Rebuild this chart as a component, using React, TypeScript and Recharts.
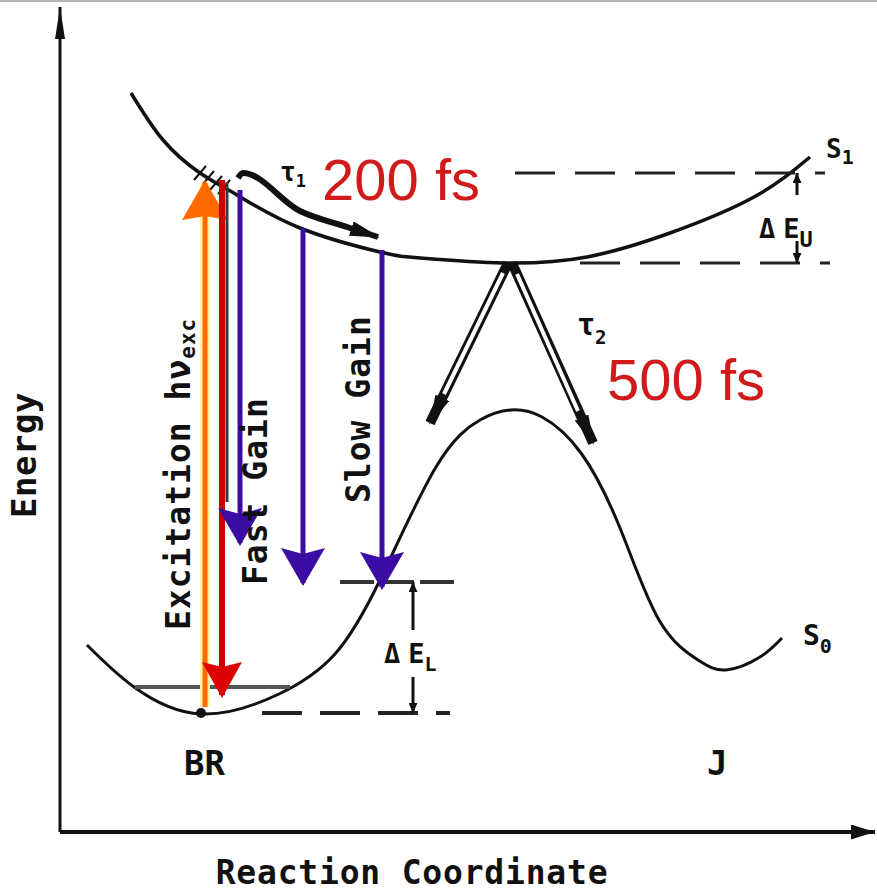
import { ComposedChart, Line, ReferenceDot, XAxis, YAxis } from "recharts";

type Pt = { x: number; e: number | null };

// potential energy curves (reaction coordinate x, energy e; arbitrary units)
const s1Curve: Pt[] = [
  { x: 71, e: 739 }, { x: 103, e: 692 }, { x: 140, e: 659 }, { x: 177, e: 637 },
  { x: 240, e: 604 }, { x: 320, e: 580 }, { x: 360, e: 574 }, { x: 443, e: 569 },
  { x: 527, e: 575 }, { x: 610, e: 599 }, { x: 694, e: 635 }, { x: 750, e: 675 },
];
const s0Curve: Pt[] = [
  { x: 27, e: 187 }, { x: 74, e: 145 }, { x: 141, e: 118 }, { x: 219, e: 138 },
  { x: 275, e: 178 }, { x: 320, e: 252 }, { x: 376, e: 365 }, { x: 420, e: 412 },
  { x: 451, e: 422 }, { x: 482, e: 415 }, { x: 521, e: 379 }, { x: 560, e: 304 },
  { x: 599, e: 212 }, { x: 638, e: 172 }, { x: 666, e: 162 }, { x: 700, e: 175 },
  { x: 722, e: 194 },
];

// energy levels
const s1TopLevel: Pt[] = [{ x: 455, e: 659 }, { x: 765, e: 659 }];
const s1MinLevel: Pt[] = [{ x: 520, e: 569 }, { x: 770, e: 569 }];
const s0MinLevel: Pt[] = [{ x: 202, e: 119 }, { x: 390, e: 119 }];
const slowLevel: Pt[] = [{ x: 280, e: 250 }, { x: 395, e: 250 }];
const vibLevel: Pt[] = [{ x: 75, e: 145 }, { x: 230, e: 145 }];

// vertical transitions
const excitation: Pt[] = [{ x: 145, e: 125 }, { x: 145, e: 649 }];
const emission: Pt[] = [{ x: 162, e: 652 }, { x: 162, e: 137 }];
const emissionShadow: Pt[] = [{ x: 167, e: 650 }, { x: 167, e: 330 }];
const fastGain: Pt[] = [{ x: 180, e: 642 }, { x: 180, e: 289 }];
const midGain: Pt[] = [{ x: 243, e: 604 }, { x: 243, e: 249 }];
const slowGain: Pt[] = [{ x: 322, e: 582 }, { x: 322, e: 245 }];

// relaxation on S1 and branching to S0
const relaxation: Pt[] = [
  { x: 178, e: 654 }, { x: 183, e: 659 }, { x: 240, e: 621 }, { x: 287, e: 605 }, { x: 318, e: 595 },
];
const branchLeft: Pt[] = [{ x: 448, e: 569 }, { x: 370, e: 409 }];
const branchLeftGap: Pt[] = [{ x: 443, e: 559 }, { x: 384, e: 438 }];
const branchRight: Pt[] = [{ x: 452, e: 569 }, { x: 533, e: 389 }];
const branchRightGap: Pt[] = [{ x: 457, e: 558 }, { x: 518, e: 421 }];

// gap markers
const euUp: Pt[] = [{ x: 737, e: 637 }, { x: 737, e: 659 }];
const euDown: Pt[] = [{ x: 737, e: 591 }, { x: 737, e: 569 }];
const elUp: Pt[] = [{ x: 353, e: 202 }, { x: 353, e: 250 }];
const elDown: Pt[] = [{ x: 353, e: 155 }, { x: 353, e: 119 }];

const hatch: Pt[] = [
  { x: 134, e: 652 }, { x: 146, e: 666 }, { x: 140, e: null },
  { x: 142, e: 647 }, { x: 154, e: 661 }, { x: 148, e: null },
  { x: 150, e: 642 }, { x: 162, e: 656 }, { x: 156, e: null },
  { x: 158, e: 638 }, { x: 170, e: 652 },
];

const energyAxis: Pt[] = [{ x: 0, e: 0 }, { x: 0, e: 825 }];
const coordAxis: Pt[] = [{ x: 0, e: 0 }, { x: 815, e: 0 }];

const INK = "#111";
const PURPLE = "#3a0ca3";
const RED = "#d11a1a";
const MONO = "'DejaVu Sans Mono', monospace";
const SANS = "'Liberation Sans', Arial, sans-serif";

const head = (id: string, fill: string, len: number, wid: number, notch = 0, inset = 0) => (
  <marker
    id={id}
    key={id}
    viewBox={`0 0 ${len} ${wid}`}
    refX={len - inset}
    refY={wid / 2}
    markerWidth={len}
    markerHeight={wid}
    markerUnits="userSpaceOnUse"
    orient="auto"
  >
    <path d={`M0,0 L${len},${wid / 2} L0,${wid} L${notch},${wid / 2} Z`} fill={fill} />
  </marker>
);

const seg = (id: string, data: Pt[], stroke: string, width: number, extra: any = {}) => (
  <Line
    key={id}
    data={data}
    dataKey="e"
    type="linear"
    stroke={stroke}
    strokeWidth={width}
    dot={false}
    activeDot={false}
    legendType="none"
    isAnimationActive={false}
    {...extra}
  />
);

const black = { fontFamily: MONO, fontWeight: 700, fill: INK } as const;

const note = (draw: (x: number, y: number) => any) => (p: any) => {
  const vb = p.viewBox || {};
  return draw(vb.x ?? 0, vb.y ?? 0);
};

const vertical = (label: string, size: number, sub?: string) =>
  note((x, y) => (
    <text x={x} y={y} transform={`rotate(-90 ${x} ${y})`} fontSize={size} letterSpacing={1} {...black}>
      {label}
      {sub && (
        <tspan fontSize={21} dy={5}>
          {sub}
        </tspan>
      )}
    </text>
  ));

const subbed = (main: string, sub: string, size: number, subSize: number, dy: number, spacing = 0) =>
  note((x, y) => (
    <text x={x} y={y} fontSize={size} {...black}>
      <tspan letterSpacing={spacing}>{main.slice(0, -1)}</tspan>
      <tspan>{main.slice(-1)}</tspan>
      <tspan fontSize={subSize} dy={dy}>
        {sub}
      </tspan>
    </text>
  ));

const red = (label: string) =>
  note((x, y) => (
    <text x={x} y={y} fontFamily={SANS} fontSize={58} fill={RED}>
      {label}
    </text>
  ));

const tag = (id: string, x: number, e: number, content: any) => (
  <ReferenceDot key={id} x={x} y={e} r={0} fill="none" stroke="none" ifOverflow="visible" label={content} />
);

export default function App() {
  return (
    <div style={{ position: "absolute", left: 0, top: 0, width: 877, height: 893, background: "#fff" }}>
      <div style={{ position: "absolute", left: 0, top: 0, width: 877, height: 2, background: "#b5b5b5" }} />
      <ComposedChart width={877} height={893} margin={{ top: 0, right: 0, left: 10, bottom: 11 }}>
        <defs>
          {head("hdPurple", PURPLE, 38, 44, 6, 3)}
          {head("hdRed", "#dd0000", 36, 40, 5, 3)}
          {head("hdOrange", "#ff6a00", 40, 46, 4, 3)}
          {head("hdBlack", INK, 30, 15, 0, 2)}
          {head("hdBranch", INK, 30, 15, 0, 2)}
          {head("hdSmall", INK, 10, 9)}
          {head("hdAxisY", INK, 32, 10)}
          {head("hdAxisX", INK, 24, 15)}
        </defs>

        <XAxis
          type="number"
          dataKey="x"
          domain={[0, 817]}
          height={50}
          tick={false}
          tickLine={false}
          axisLine={false}
          label={note((x, y) => (
            <text x={x + 352} y={y + 52} textAnchor="middle" fontSize={33} letterSpacing={0.8} {...black}>
              Reaction Coordinate
            </text>
          ))}
        />
        <YAxis
          type="number"
          dataKey="e"
          domain={[0, 832]}
          width={50}
          tick={false}
          tickLine={false}
          axisLine={false}
          label={note((x, y) => (
            <text
              x={x + 26}
              y={y + 455}
              textAnchor="middle"
              transform={`rotate(-90 ${x + 26} ${y + 455})`}
              fontSize={34}
              letterSpacing={0.5}
              {...black}
            >
              Energy
            </text>
          ))}
        />

        {seg("energyAxis", energyAxis, INK, 3, { markerEnd: "url(#hdAxisY)" })}
        {seg("coordAxis", coordAxis, INK, 4, { markerEnd: "url(#hdAxisX)" })}

        {seg("s1", s1Curve, INK, 3.5, { type: "natural" })}
        {seg("s0", s0Curve, INK, 3, { type: "natural" })}
        {seg("hatch", hatch, INK, 2)}

        {seg("s1Top", s1TopLevel, "#222", 3, { strokeDasharray: "40 20" })}
        {seg("s1Min", s1MinLevel, "#222", 3, { strokeDasharray: "40 20" })}
        {seg("s0Min", s0MinLevel, "#222", 4, { strokeDasharray: "40 18" })}
        {seg("slow", slowLevel, "#333", 4, { strokeDasharray: "34 6" })}
        {seg("vib", vibLevel, "#555", 4)}

        {seg("euUp", euUp, INK, 3, { markerEnd: "url(#hdSmall)" })}
        {seg("euDown", euDown, INK, 3, { markerEnd: "url(#hdSmall)" })}
        {seg("elUp", elUp, INK, 3, { markerEnd: "url(#hdSmall)" })}
        {seg("elDown", elDown, INK, 3, { markerEnd: "url(#hdSmall)" })}

        {seg("relax", relaxation, INK, 6, { type: "monotone", markerEnd: "url(#hdBlack)" })}
        {seg("branchL", branchLeft, INK, 10, { markerEnd: "url(#hdBranch)" })}
        {seg("branchLGap", branchLeftGap, "#fff", 4)}
        {seg("branchR", branchRight, INK, 10, { markerEnd: "url(#hdBranch)" })}
        {seg("branchRGap", branchRightGap, "#fff", 4)}

        {tag("excLabel", 130, 202, vertical("Excitation  hν", 33, "exc"))}
        {tag("fastLabel", 207, 247, vertical("Fast Gain", 33))}
        {tag("slowLabel", 310, 329, vertical("Slow Gain", 33))}

        {seg("excGlow", excitation, "#fff3a8", 10)}
        {seg("exc", excitation, "#ff6a00", 5, { markerEnd: "url(#hdOrange)" })}
        {seg("emShadow", emissionShadow, "#3a3a3a", 3)}
        {seg("em", emission, "#cc0000", 6, { markerEnd: "url(#hdRed)" })}
        {seg("fast", fastGain, PURPLE, 5, { markerEnd: "url(#hdPurple)" })}
        {seg("mid", midGain, PURPLE, 5, { markerEnd: "url(#hdPurple)" })}
        {seg("slowArrow", slowGain, PURPLE, 5, { markerEnd: "url(#hdPurple)" })}

        <ReferenceDot x={141} y={119} r={5} fill={INK} stroke="none" />

        {tag("tau1", 220, 651, subbed("τ", "1", 26, 17, 6))}
        {tag("t1", 262, 632, red("200 fs"))}
        {tag("tau2", 517, 497, subbed("τ", "2", 30, 19, 9))}
        {tag("t2", 547, 432, red("500 fs"))}
        {tag("s1Label", 766, 674, subbed("S", "1", 26, 20, 6))}
        {tag("s0Label", 743, 187, subbed("S", "0", 28, 20, 8))}
        {tag("euLabel", 699, 594, subbed("ΔE", "U", 27, 22, 9, 8))}
        {tag("elLabel", 324, 169, subbed("ΔE", "L", 27, 20, 8, 8))}
        {tag("brLabel", 124, 57, note((x, y) => <text x={x} y={y} fontSize={34} {...black}>BR</text>))}
        {tag("jLabel", 647, 57, note((x, y) => <text x={x} y={y} fontSize={34} {...black}>J</text>))}
      </ComposedChart>
    </div>
  );
}
